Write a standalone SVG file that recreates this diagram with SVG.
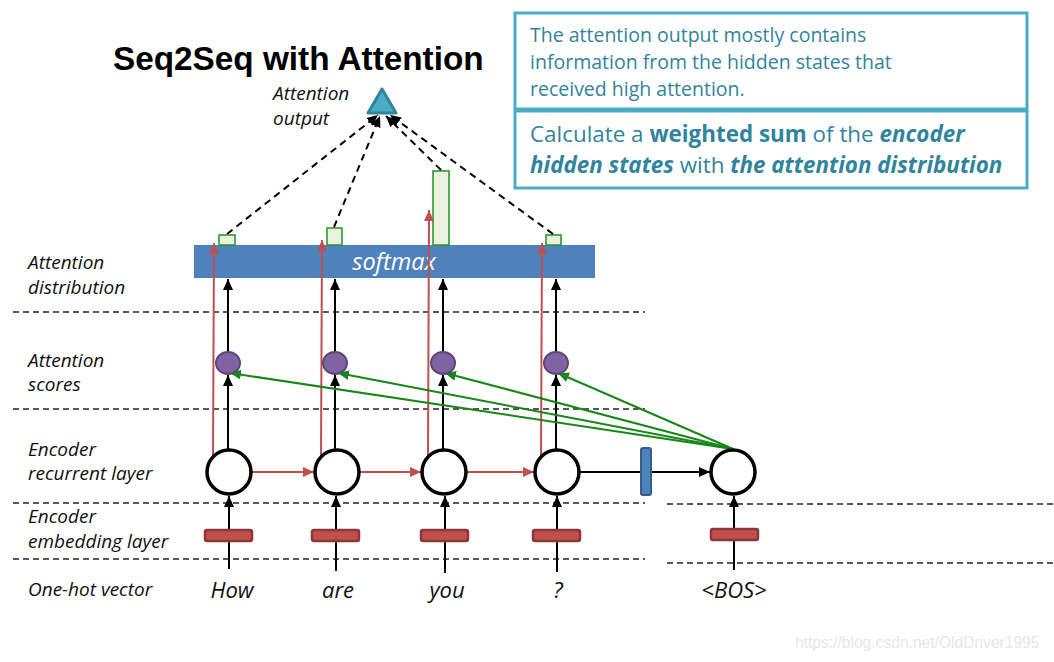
<svg xmlns="http://www.w3.org/2000/svg" width="1054" height="662" viewBox="0 0 1054 662">
<style>
.lbl{font-family:"Open Sans","Liberation Sans",sans-serif;font-style:italic;font-size:19px;fill:#111}
.word{font-family:"Open Sans","Liberation Sans",sans-serif;font-style:italic;font-size:22px;fill:#111}
.box{font-family:"Open Sans","Liberation Sans",sans-serif;fill:#31849B}
.b{font-weight:bold}
.bi{font-weight:bold;font-style:italic}
.layer{stroke:#222;stroke-width:1.5;stroke-dasharray:6 4;fill:none}
.blk{stroke:#000;stroke-width:2;fill:none}
.red{stroke:#C0504D;stroke-width:2;fill:none}
.grn{stroke:#178717;stroke-width:2;fill:none}
.dsh{stroke:#000;stroke-width:2;stroke-dasharray:7 5;fill:none}
.rnn{fill:#fff;stroke:#000;stroke-width:3.5}
.score{fill:#8064A2;stroke:#5C4776;stroke-width:2}
.emb{fill:#C0504D;stroke:#8C3836;stroke-width:2.5}
.gbar{fill:#EBF1DE;stroke:#2E9A2E;stroke-width:1.6}
</style>
<defs>
<marker id="ab" markerUnits="userSpaceOnUse" markerWidth="12" markerHeight="12" refX="11" refY="6" orient="auto"><path d="M0,1 L11,6 L0,11 Z" fill="#000"/></marker>
<marker id="ar" markerUnits="userSpaceOnUse" markerWidth="12" markerHeight="12" refX="11" refY="6" orient="auto"><path d="M0,1 L11,6 L0,11 Z" fill="#C0504D"/></marker>
<marker id="ag" markerUnits="userSpaceOnUse" markerWidth="12" markerHeight="12" refX="11" refY="6" orient="auto"><path d="M0,1 L11,6 L0,11 Z" fill="#178717"/></marker>
</defs>
<rect width="1054" height="662" fill="#fff"/>

<g id="title"><text x="113" y="70" font-family="Liberation Sans, Arial, sans-serif" font-weight="bold" font-size="33.3" fill="#000">Seq2Seq with Attention</text></g>

<g id="infobox">
<rect x="515" y="13" width="512" height="96" fill="#fff" stroke="#4BACC6" stroke-width="3"/>
<rect x="515" y="111" width="512" height="77" fill="#fff" stroke="#4BACC6" stroke-width="3"/>
<text class="box" font-size="19.5"><tspan x="530" y="42">The attention output mostly contains</tspan><tspan x="530" y="69">information from the hidden states that</tspan><tspan x="530" y="96">received high attention.</tspan></text>
<text class="box" font-size="22.4"><tspan x="530" y="142">Calculate a <tspan class="b">weighted sum</tspan> of the <tspan class="bi">encoder</tspan></tspan><tspan x="530" y="173"><tspan class="bi">hidden states</tspan> with <tspan class="bi">the attention distribution</tspan></tspan></text>
</g>

<g id="layer-labels">
<text class="lbl"><tspan x="28" y="269">Attention</tspan><tspan x="28" y="294">distribution</tspan></text>
<text class="lbl"><tspan x="28" y="367">Attention</tspan><tspan x="28" y="391">scores</tspan></text>
<text class="lbl"><tspan x="28" y="456">Encoder</tspan><tspan x="28" y="480">recurrent layer</tspan></text>
<text class="lbl"><tspan x="28" y="523">Encoder</tspan><tspan x="28" y="548">embedding layer</tspan></text>
<text class="lbl" x="28" y="596">One-hot vector</text>
</g>

<g id="layer-lines">
<line class="layer" x1="13" y1="312" x2="645" y2="312"/>
<line class="layer" x1="13" y1="409" x2="645" y2="409"/>
<line class="layer" x1="13" y1="503" x2="645" y2="503"/>
<line class="layer" x1="13" y1="559" x2="645" y2="559"/>
<line class="layer" x1="667" y1="504" x2="1054" y2="504"/>
<line class="layer" x1="667" y1="563" x2="1054" y2="563"/>
</g>

<g id="softmax">
<rect x="194" y="245" width="401" height="33" fill="#4F81BD"/>
<text x="394" y="270" text-anchor="middle" font-family="Open Sans, Liberation Sans, sans-serif" font-style="italic" font-size="23.5" fill="#fff">softmax</text>
</g>

<g id="attn-bars">
<rect class="gbar" x="219" y="235" width="16" height="10"/>
<rect class="gbar" x="327" y="228" width="15" height="17"/>
<rect class="gbar" x="433" y="171" width="16" height="74"/>
<rect class="gbar" x="546" y="235" width="15" height="10"/>
</g>

<g id="connectors">
<line class="blk" x1="229" y1="569" x2="229" y2="496" marker-end="url(#ab)"/>
<line class="blk" x1="336" y1="571" x2="336" y2="496" marker-end="url(#ab)"/>
<line class="blk" x1="445" y1="573" x2="445" y2="496" marker-end="url(#ab)"/>
<line class="blk" x1="557" y1="572" x2="557" y2="496" marker-end="url(#ab)"/>
<line class="blk" x1="734" y1="570" x2="734" y2="496" marker-end="url(#ab)"/>
<line class="blk" x1="228" y1="450" x2="228" y2="375" marker-end="url(#ab)"/>
<line class="blk" x1="335" y1="450" x2="335" y2="375" marker-end="url(#ab)"/>
<line class="blk" x1="443" y1="450" x2="443" y2="375" marker-end="url(#ab)"/>
<line class="blk" x1="556" y1="450" x2="556" y2="375" marker-end="url(#ab)"/>
<line class="blk" x1="228" y1="352" x2="228" y2="279" marker-end="url(#ab)"/>
<line class="blk" x1="335" y1="352" x2="335" y2="279" marker-end="url(#ab)"/>
<line class="blk" x1="443" y1="352" x2="443" y2="279" marker-end="url(#ab)"/>
<line class="blk" x1="556" y1="352" x2="556" y2="279" marker-end="url(#ab)"/>
<line class="red" x1="252" y1="472" x2="314" y2="472" marker-end="url(#ar)"/>
<line class="red" x1="360" y1="472" x2="421" y2="472" marker-end="url(#ar)"/>
<line class="red" x1="467" y1="472" x2="534" y2="472" marker-end="url(#ar)"/>
<line class="red" x1="213" y1="456" x2="214" y2="243" marker-end="url(#ar)"/>
<line class="red" x1="321" y1="456" x2="322" y2="240" marker-end="url(#ar)"/>
<line class="red" x1="428" y1="456" x2="429" y2="210" marker-end="url(#ar)"/>
<line class="red" x1="541" y1="456" x2="542" y2="243" marker-end="url(#ar)"/>
<line class="blk" x1="580" y1="472" x2="710" y2="472" marker-end="url(#ab)"/>
<line class="grn" x1="733" y1="449" x2="230" y2="373" marker-end="url(#ag)"/>
<line class="grn" x1="733" y1="449" x2="338" y2="373" marker-end="url(#ag)"/>
<line class="grn" x1="733" y1="449" x2="445" y2="373" marker-end="url(#ag)"/>
<line class="grn" x1="733" y1="449" x2="558" y2="373" marker-end="url(#ag)"/>
<line class="dsh" x1="227" y1="234" x2="378" y2="115" marker-end="url(#ab)"/>
<line class="dsh" x1="334" y1="227" x2="380" y2="116" marker-end="url(#ab)"/>
<line class="dsh" x1="441" y1="170" x2="386" y2="116" marker-end="url(#ab)"/>
<line class="dsh" x1="553" y1="234" x2="390" y2="115" marker-end="url(#ab)"/>
</g>

<g id="attention-output">
<path d="M382,89 L396,113 L368,113 Z" fill="#4BACC6" stroke="#31849B" stroke-width="3" stroke-linejoin="round"/>
<text class="lbl"><tspan x="273" y="100">Attention</tspan><tspan x="273" y="125">output</tspan></text>
</g>

<g id="scores">
<ellipse class="score" cx="228" cy="363" rx="12" ry="11"/>
<ellipse class="score" cx="335" cy="363" rx="12" ry="11"/>
<ellipse class="score" cx="443" cy="363" rx="12" ry="11"/>
<ellipse class="score" cx="556" cy="363" rx="12" ry="11"/>
</g>

<g id="rnn">
<circle class="rnn" cx="229" cy="472" r="22"/>
<circle class="rnn" cx="337" cy="472" r="22"/>
<circle class="rnn" cx="444" cy="472" r="22"/>
<circle class="rnn" cx="557" cy="472" r="22"/>
<circle class="rnn" cx="733" cy="472" r="22"/>
</g>

<g id="bridge"><rect x="641" y="448" width="10" height="47" rx="2" fill="#4F81BD" stroke="#385D8A" stroke-width="2"/></g>

<g id="embeddings">
<rect class="emb" x="205" y="530" width="47" height="11" rx="2"/>
<rect class="emb" x="312" y="530" width="47" height="11" rx="2"/>
<rect class="emb" x="421" y="530" width="47" height="11" rx="2"/>
<rect class="emb" x="533" y="530" width="47" height="11" rx="2"/>
<rect class="emb" x="711" y="529" width="47" height="11" rx="2"/>
</g>

<g id="words">
<text class="word" x="232" y="598" text-anchor="middle">How</text>
<text class="word" x="338" y="598" text-anchor="middle">are</text>
<text class="word" x="447" y="598" text-anchor="middle">you</text>
<text class="word" x="558" y="598" text-anchor="middle">?</text>
<text class="word" x="734" y="598" text-anchor="middle">&lt;BOS&gt;</text>
</g>

<g id="watermark"><text x="795" y="648" font-family="Liberation Sans, Arial, sans-serif" font-size="15.6" fill="#e8e8e8">https://blog.csdn.net/OldDriver1995</text></g>
</svg>
